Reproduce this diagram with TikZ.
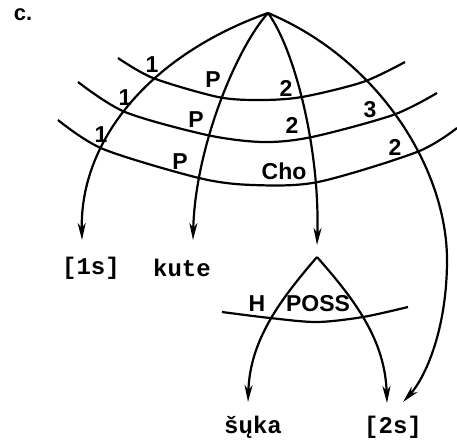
\documentclass[tikz,border=0pt]{standalone}
\usepackage{fontspec}
\setmainfont{Liberation Sans}
\newfontfamily\monof{Liberation Mono}
\usetikzlibrary{arrows.meta}
\begin{document}
\begin{tikzpicture}[x=1pt,y=-1pt,
  edge/.style={line width=2.2pt,-{Stealth[length=17pt,width=8pt,inset=5pt]}},
  bar/.style={line width=2.2pt},
  lab/.style={font=\bfseries\fontsize{23}{23}\selectfont,inner sep=0pt},
  word/.style={font=\monof\bfseries\fontsize{24}{24}\selectfont,inner sep=0pt}]
\useasboundingbox (0,0) rectangle (457,439);
% top label
\node[font=\bfseries\fontsize{22}{22}\selectfont,inner sep=0pt] (c) at (23,15) {c.};
% apex and ends
\coordinate (top) at (268,13);
\coordinate (e1) at (82,240);
\coordinate (e2) at (193,240);
\coordinate (e3) at (317,245);
\coordinate (e4) at (403,402);
\coordinate (mid4) at (447,260);
% main arcs
\draw[edge] (top) .. controls (150,55) and (80,140) .. (e1);
\draw[edge] (top) .. controls (235,50) and (195,150) .. (e2);
\draw[edge] (top) .. controls (295,50) and (320,150) .. (e3);
\draw[edge] (top) .. controls (380,60) and (447,170) .. (mid4) .. controls (447,330) and (425,378) .. (e4);
% cross bars
\draw[bar] plot[smooth] coordinates {(118,58) (153,78) (218,97) (260,100) (302,97) (363,82) (405,62)};
\draw[bar] plot[smooth] coordinates {(78,82) (125,112) (207,135) (263,142) (312,137) (393,115) (437,93)};
\draw[bar] plot[smooth] coordinates {(58,120) (103,149) (199,178) (253,185) (318,182) (417,152) (457,128)};
% labels on top bars
\node[lab] (a1) at (152,65) {1};
\node[lab] (a2) at (125,98) {1};
\node[lab] (a3) at (101,135) {1};
\node[lab] (p1) at (213,80) {P};
\node[lab] (p2) at (196,120) {P};
\node[lab] (p3) at (180,162) {P};
\node[lab] (b1) at (286,88) {2};
\node[lab] (b2) at (292,125) {2};
\node[lab] (cho) at (284,171) {Cho};
\node[lab] (d1) at (370,110) {3};
\node[lab] (d2) at (395,147) {2};
% words
\node[word] (w1) at (91,268) {[1s]};
\node[word] (w2) at (182,268) {kute};
% lower tree
\coordinate (top2) at (317,257);
\coordinate (f1) at (248,402);
\coordinate (f2) at (387,403);
\draw[edge] (top2) .. controls (280,300) and (250,340) .. (f1);
\draw[edge] (top2) .. controls (355,300) and (385,340) .. (f2);
\draw[bar] plot[smooth] coordinates {(222,312) (270,318) (317,322) (363,317) (408,307)};
\node[lab] (h) at (257,304) {H};
\node[lab] (poss) at (318,304) {POSS};
\node[word] (w3) at (253,427) {šųka};
\node[word] (w4) at (393,427) {[2s]};
\end{tikzpicture}
\end{document}
